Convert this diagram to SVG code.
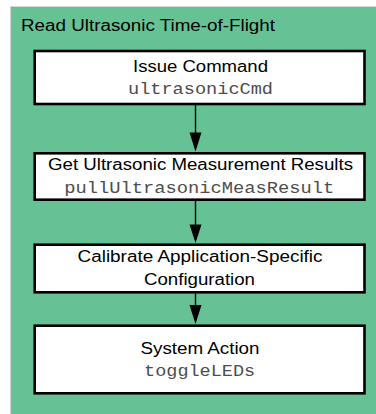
<svg xmlns="http://www.w3.org/2000/svg" width="376" height="414" viewBox="0 0 376 414">
<style>
.bg{fill:#66c294;stroke:#d4d4d4;stroke-width:1}
.box{fill:#ffffff;stroke:#000000;stroke-width:2.6}
.sans{font-family:"Liberation Sans",Arial,sans-serif;font-size:16px;fill:#000000}
.mono{font-family:"Liberation Mono","Courier New",monospace;font-size:16px;fill:#4d4d4d}
.c{text-anchor:middle}
.edge{stroke:#000000;stroke-width:1.4;fill:none}
.head{fill:#000000;stroke:none}
</style>
<g id="cluster">
<rect class="bg" x="10.5" y="6.5" width="370" height="412"/>
<text class="sans" x="21" y="31.3" textLength="254" lengthAdjust="spacingAndGlyphs">Read Ultrasonic Time-of-Flight</text>
</g>
<g id="connectors">
<line class="edge" x1="195.5" y1="105" x2="195.5" y2="134"/>
<path class="head" d="M189.5,132.5 L201.5,132.5 L195.5,151.5 Z"/>
<line class="edge" x1="195.5" y1="201" x2="195.5" y2="226"/>
<path class="head" d="M189.5,224.5 L201.5,224.5 L195.5,243 Z"/>
<line class="edge" x1="195.5" y1="293.5" x2="195.5" y2="307"/>
<path class="head" d="M189.5,305 L201.5,305 L195.5,324 Z"/>
</g>
<g id="issue-command">
<rect class="box" x="34.7" y="51" width="329.8" height="53"/>
<text class="sans c" x="200.5" y="71.7" textLength="135" lengthAdjust="spacingAndGlyphs">Issue Command</text>
<text class="mono c" x="200.5" y="94.3" textLength="145" lengthAdjust="spacingAndGlyphs">ultrasonicCmd</text>
</g>
<g id="get-results">
<rect class="box" x="34.7" y="153.3" width="329.8" height="46.4"/>
<text class="sans c" x="200.5" y="170.4" textLength="305" lengthAdjust="spacingAndGlyphs">Get Ultrasonic Measurement Results</text>
<text class="mono c" x="199.2" y="193" textLength="270" lengthAdjust="spacingAndGlyphs">pullUltrasonicMeasResult</text>
</g>
<g id="calibrate">
<rect class="box" x="34.7" y="244.7" width="329.8" height="47.6"/>
<text class="sans c" x="200" y="262.3" textLength="245" lengthAdjust="spacingAndGlyphs">Calibrate Application-Specific</text>
<text class="sans c" x="199.5" y="285" textLength="111" lengthAdjust="spacingAndGlyphs">Configuration</text>
</g>
<g id="system-action">
<rect class="box" x="34.7" y="325.7" width="329.8" height="67.6"/>
<text class="sans c" x="200" y="354" textLength="119" lengthAdjust="spacingAndGlyphs">System Action</text>
<text class="mono c" x="199.6" y="376" textLength="111" lengthAdjust="spacingAndGlyphs">toggleLEDs</text>
</g>
</svg>
